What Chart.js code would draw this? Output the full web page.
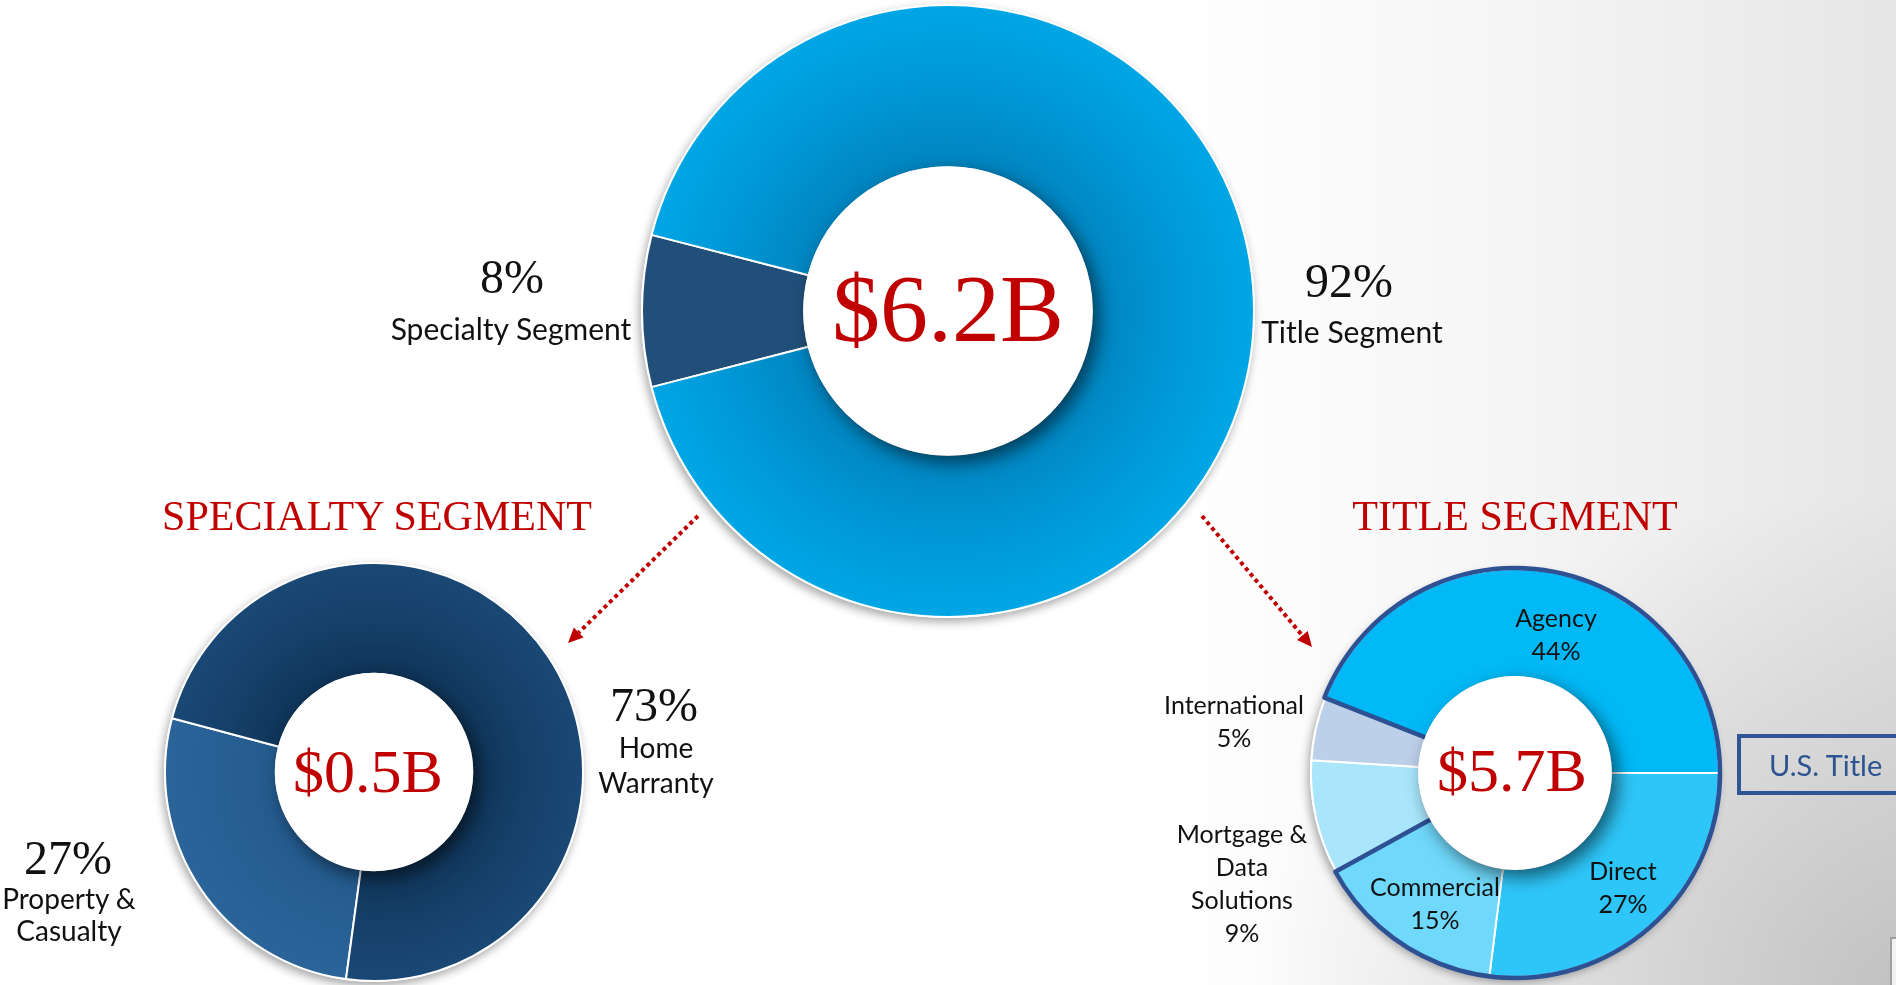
<!DOCTYPE html>
<html lang="en">
<head>
    <meta charset="UTF-8">
    <title>Revenue by Segment</title>
    <script src="https://cdn.jsdelivr.net/npm/chart.js"></script>
    <style>
        html, body { margin: 0; padding: 0; }
        body {
            width: 1896px; height: 985px; overflow: hidden; position: relative;
            background:
                radial-gradient(ellipse 34% 50% at 100% 100%, rgba(150,150,150,0.45), rgba(150,150,150,0) 100%),
                linear-gradient(to right, #ffffff 0%, #ffffff 62%, #f5f5f5 80%, #e6e6e6 100%);
        }
        canvas { position: absolute; }
        .lbl { position: absolute; transform: translate(-50%, -50%); text-align: center; white-space: nowrap; line-height: 1; color: #111; }
        .pct { font-family: 'Liberation Serif', 'Times New Roman', serif; font-size: 48px; }
        .name { font-family: Lato, 'Open Sans', sans-serif; font-size: 30px; }
        .sub { font-family: Lato, 'Open Sans', sans-serif; font-size: 28px; }
        .small { font-family: Lato, 'Open Sans', sans-serif; font-size: 25px; line-height: 33px; }
        .total { font-family: 'Liberation Serif', 'Times New Roman', serif; color: #c00000; }
        .head { font-family: 'Liberation Serif', 'Times New Roman', serif; color: #c00000; font-size: 42px; }
        .tag {
            position: absolute; left: 1737px; top: 734px; width: 200px; height: 53px;
            border: 4px solid #2f5597; box-sizing: content-box;
            font-family: Lato, 'Open Sans', sans-serif; font-size: 29px; color: #2c5490;
            line-height: 53px; padding-left: 28px;
        }
        .corner { position: absolute; left: 1890px; top: 937px; width: 30px; height: 80px; border: 2px solid #a0a0a0; background: #f2f2f2; }
        svg { position: absolute; left: 0; top: 0; }
    </style>
</head>
<body>
    <canvas id="mainChart" width="662" height="662" style="left:617px; top:-20px;"></canvas>
    <canvas id="specialtyChart" width="468" height="468" style="left:140px; top:538px;"></canvas>
    <canvas id="titleChart" width="458" height="458" style="left:1286px; top:544px;"></canvas>
    <svg id="arrows" width="1896" height="985"></svg>
    <div class="tag">U.S. Title</div>
    <div class="corner"></div>
    <div id="labels"></div>

    <script>
        // revenue split, in percent
        const mainLabels = ['Specialty Segment', 'Title Segment'];
        const mainValues = [8, 92];
        const mainTotal = '$6.2B';

        const specialtyLabels = [['Property &', 'Casualty'], ['Home', 'Warranty']];
        const specialtyValues = [27, 73];
        const specialtyTotal = '$0.5B';

        const titleLabels = ['Agency', 'Direct', 'Commercial', ['Mortgage &', 'Data', 'Solutions'], 'International'];
        const titleValues = [44, 27, 15, 9, 5];
        const titleTotal = '$5.7B';

        // ring shading: darker toward the hole, lighter at the rim
        function ringShade(stops) {
            return function (c) {
                const s = stops[c.dataIndex];
                const area = c.chart.chartArea;
                if (typeof s === 'string' || !area) return typeof s === 'string' ? s : s[s.length - 1];
                const cx = (area.left + area.right) / 2, cy = (area.top + area.bottom) / 2;
                const r = Math.min(area.width, area.height) / 2;
                const g = c.chart.ctx.createRadialGradient(cx, cy, r * 0.47, cx, cy, r);
                s.forEach((col, i) => g.addColorStop(i / (s.length - 1), col));
                return g;
            };
        }

        // drop shadow under the ring, raised white hub, optional outline around a group of slices
        const ringDecor = {
            id: 'ringDecor',
            beforeDatasetsDraw(chart) {
                const arc = chart.getDatasetMeta(0).data[0];
                const ctx = chart.ctx;
                ctx.save();
                ctx.shadowColor = 'rgba(0,0,0,0.35)';
                ctx.shadowBlur = 10;
                ctx.shadowOffsetX = -2;
                ctx.shadowOffsetY = 4;
                ctx.fillStyle = '#ffffff';
                ctx.beginPath();
                ctx.arc(arc.x, arc.y, arc.outerRadius + 1, 0, Math.PI * 2);
                ctx.fill();
                ctx.restore();
            },
            afterDatasetsDraw(chart, args, opts) {
                const meta = chart.getDatasetMeta(0);
                const { x, y, innerRadius, outerRadius } = meta.data[0];
                const ctx = chart.ctx;
                if (opts.outline) {
                    const a0 = meta.data[opts.outline.from].startAngle;
                    const a1 = meta.data[opts.outline.to].endAngle;
                    const R = outerRadius + 1;
                    ctx.save();
                    ctx.strokeStyle = opts.outline.color;
                    ctx.lineWidth = opts.outline.width;
                    ctx.lineJoin = 'round';
                    ctx.beginPath();
                    ctx.moveTo(x + innerRadius * Math.cos(a0), y + innerRadius * Math.sin(a0));
                    ctx.lineTo(x + R * Math.cos(a0), y + R * Math.sin(a0));
                    ctx.arc(x, y, R, a0, a1);
                    ctx.lineTo(x + innerRadius * Math.cos(a1), y + innerRadius * Math.sin(a1));
                    ctx.stroke();
                    ctx.restore();
                }
                ctx.save();
                ctx.shadowColor = 'rgba(0,0,0,0.55)';
                ctx.shadowBlur = 18;
                ctx.shadowOffsetX = 6;
                ctx.shadowOffsetY = 7;
                ctx.fillStyle = '#ffffff';
                ctx.beginPath();
                ctx.arc(x, y, innerRadius + 1, 0, Math.PI * 2);
                ctx.fill();
                ctx.restore();
            }
        };

        function makeRing(id, labels, values, colors, rotation, extra) {
            return new Chart(document.getElementById(id), {
                type: 'doughnut',
                data: {
                    labels: labels,
                    datasets: [{
                        data: values,
                        backgroundColor: ringShade(colors),
                        borderColor: '#ffffff',
                        borderWidth: 2
                    }]
                },
                options: {
                    responsive: false,
                    animation: false,
                    cutout: '47%',
                    rotation: rotation,
                    layout: { padding: 24 },
                    plugins: {
                        legend: { display: false },
                        tooltip: { enabled: false },
                        ringDecor: extra || {}
                    }
                },
                plugins: [ringDecor]
            });
        }

        makeRing('mainChart', mainLabels, mainValues,
            ['#214f7a', ['#0084bf', '#0097d6', '#00a6e5']], 255.6);
        makeRing('specialtyChart', specialtyLabels, specialtyValues,
            [['#245b8e', '#2a6499'], ['#0f3559', '#16406a', '#1a4875']], 187.7);
        makeRing('titleChart', titleLabels, titleValues,
            ['#00b9f6', '#2ec6f9', '#6fd8fb', '#a9e6fc', '#bdd0e9'], -68.4,
            { outline: { from: 0, to: 2, color: '#2d5193', width: 4.5 } });

        // text around the rings
        const holder = document.getElementById('labels');
        function put(lines, x, y, cls) {
            const d = document.createElement('div');
            d.className = 'lbl ' + cls;
            d.style.left = x + 'px';
            d.style.top = y + 'px';
            d.innerHTML = [].concat(lines).map(s => s.replace(/&/g, '&amp;')).join('<br>');
            holder.appendChild(d);
            return d;
        }

        put(mainValues[0] + '%', 512, 277, 'pct');
        put(mainLabels[0], 511, 328, 'name');
        put(mainValues[1] + '%', 1349, 281, 'pct');
        put(mainLabels[1], 1352, 331, 'name');

        put(specialtyValues[1] + '%', 654, 705, 'pct');
        put(specialtyLabels[1], 656, 765, 'sub').style.lineHeight = '35px';
        put(specialtyValues[0] + '%', 68, 858, 'pct');
        put(specialtyLabels[0], 69, 914, 'sub').style.lineHeight = '32px';

        put([titleLabels[0], titleValues[0] + '%'], 1556, 634, 'small');
        put([titleLabels[1], titleValues[1] + '%'], 1623, 887, 'small');
        put([titleLabels[2], titleValues[2] + '%'], 1435, 903, 'small');
        put(titleLabels[3].concat(titleValues[3] + '%'), 1242, 883, 'small');
        put([titleLabels[4], titleValues[4] + '%'], 1234, 721, 'small');

        put(mainTotal, 948, 309, 'total').style.fontSize = '96px';
        put(specialtyTotal, 368, 771, 'total').style.fontSize = '62px';
        put(titleTotal, 1512, 770, 'total').style.fontSize = '62px';

        put('SPECIALTY SEGMENT', 377, 516, 'head');
        put('TITLE SEGMENT', 1515, 516, 'head');

        // dotted red pointers from the main ring to each breakdown
        const svg = document.getElementById('arrows');
        function pointer(x1, y1, x2, y2) {
            const len = Math.hypot(x2 - x1, y2 - y1);
            const ux = (x2 - x1) / len, uy = (y2 - y1) / len;
            const bx = x2 - ux * 15, by = y2 - uy * 15;
            const px = -uy * 7, py = ux * 7;
            svg.innerHTML +=
                `<line x1="${x1}" y1="${y1}" x2="${bx}" y2="${by}" stroke="#c00000" stroke-width="4" stroke-dasharray="4 3.5"/>` +
                `<polygon points="${x2},${y2} ${bx + px},${by + py} ${bx - px},${by - py}" fill="#c00000"/>`;
        }
        pointer(698, 516, 568, 643);
        pointer(1202, 516, 1312, 647);
    </script>
</body>
</html>
